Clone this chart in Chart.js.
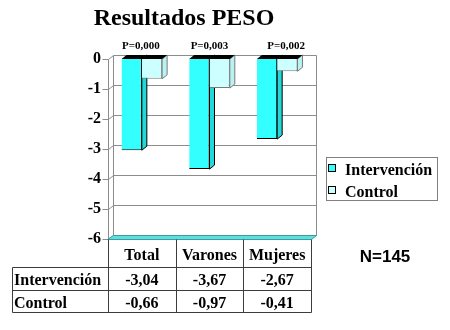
<!DOCTYPE html>
<html>
<head>
<meta charset="utf-8">
<script src="https://cdn.jsdelivr.net/npm/chart.js@4/dist/chart.umd.min.js"></script>
<style>
  html, body { margin: 0; padding: 0; background: #fff; }
  #c { display: block; }
</style>
</head>
<body>
<canvas id="c" width="450" height="330"></canvas>
<script>
// Weight change by group (kg)
const categories = ['Total', 'Varones', 'Mujeres'];
const seriesNames = ['Intervención', 'Control'];
const intervencion = [-3.04, -3.67, -2.67];
const control = [-0.66, -0.97, -0.41];
const pValues = ['P=0,000', 'P=0,003', 'P=0,002'];
const yTicks = [0, -1, -2, -3, -4, -5, -6];
const titleText = 'Resultados PESO';
const sampleText = 'N=145';

const COLORS = {
  interv: '#33ffff', intervSide: '#22d8d8', intervEdge: '#000000',
  ctrl: '#ccffff', ctrlSide: '#b9f2f2', ctrlEdge: '#7a7a7a',
  grid: '#8c8c8c', floor: '#5fdede', floorEdge: '#3a9e9e', table: '#3c3c3c'
};
const SERIF = '"Liberation Serif", "Times New Roman", serif';
const SANS = '"Liberation Sans", Arial, sans-serif';
const DX = 5, DY = 4;   // depth offset of the 3D walls and bar sides

const fmt = v => v.toFixed(2).replace('.', ',');

// Walls, gridlines, floor and the depth faces of the bars
const depthPlugin = {
  id: 'depth',
  beforeDatasetsDraw(chart) {
    const { ctx, chartArea: a, scales: { y } } = chart;
    ctx.save();
    ctx.lineWidth = 1;
    ctx.strokeStyle = COLORS.grid;
    const L = Math.round(a.left) + 0.5, R = Math.round(a.right) + 0.5;
    const T = Math.round(y.getPixelForValue(0)) + 0.5;
    const B = Math.round(y.getPixelForValue(-6)) + 0.5;
    yTicks.forEach(v => {
      const py = Math.round(y.getPixelForValue(v)) + 0.5;
      ctx.beginPath();
      ctx.moveTo(L - 6, py);
      ctx.lineTo(L, py);
      ctx.lineTo(L + DX, py - DY);
      ctx.lineTo(R + DX, py - DY);
      ctx.stroke();
    });
    ctx.beginPath();
    ctx.moveTo(L, T); ctx.lineTo(L, B);
    ctx.moveTo(L + DX, T - DY); ctx.lineTo(L + DX, B - DY);
    ctx.moveTo(R + DX, T - DY); ctx.lineTo(R + DX, B - DY);
    ctx.stroke();

    // floor slab
    ctx.beginPath();
    ctx.moveTo(L - 1, B); ctx.lineTo(R, B);
    ctx.lineTo(R + DX, B - DY); ctx.lineTo(L + DX, B - DY);
    ctx.closePath();
    ctx.fillStyle = COLORS.floor; ctx.fill();
    ctx.strokeStyle = COLORS.floorEdge; ctx.stroke();

    // side and top faces of the bars
    const faces = [
      { meta: chart.getDatasetMeta(0), side: COLORS.intervSide, edge: COLORS.intervEdge },
      { meta: chart.getDatasetMeta(1), side: COLORS.ctrlSide, edge: COLORS.ctrlEdge }
    ];
    faces.forEach(f => {
      f.meta.data.forEach(bar => {
        const x2 = bar.x + bar.width / 2;
        const top = bar.base, bot = bar.y;
        ctx.beginPath();
        ctx.moveTo(x2, top);
        ctx.lineTo(x2 + DX, top - DY);
        ctx.lineTo(x2 + DX, bot - DY);
        ctx.lineTo(x2, bot);
        ctx.closePath();
        ctx.fillStyle = f.side; ctx.fill();
        ctx.strokeStyle = f.edge; ctx.stroke();
      });
    });
    faces.forEach(f => {
      f.meta.data.forEach(bar => {
        const x1 = bar.x - bar.width / 2, x2 = bar.x + bar.width / 2;
        const top = bar.base;
        ctx.beginPath();
        ctx.moveTo(x1, top);
        ctx.lineTo(x2, top);
        ctx.lineTo(x2 + DX, top - DY);
        ctx.lineTo(x1 + DX, top - DY);
        ctx.closePath();
        ctx.fillStyle = '#000'; ctx.fill();
      });
    });
    ctx.restore();
  },
  afterDraw(chart) {
    const { ctx, chartArea: a, scales: { x } } = chart;
    ctx.save();
    ctx.fillStyle = '#000';
    ctx.textBaseline = 'alphabetic';

    // title
    ctx.textAlign = 'center';
    ctx.font = 'bold 24px ' + SERIF;
    ctx.fillText(titleText, 184, 25);

    // significance labels above each group
    const pShift = [-1, 0, 9];
    ctx.font = 'bold 11px ' + SERIF;
    pValues.forEach((p, i) => ctx.fillText(p, x.getPixelForValue(i) + pShift[i], 49));

    // data table
    const cw = (a.right - a.left) / categories.length;
    const top = Math.round(a.bottom) + 0.5;
    const rows = [267.5, 290.5, 312.5];
    ctx.strokeStyle = COLORS.table;
    ctx.lineWidth = 1;
    ctx.beginPath();
    rows.forEach(ry => { ctx.moveTo(12.5, ry); ctx.lineTo(Math.round(a.right) + 0.5, ry); });
    ctx.moveTo(12.5, rows[0]); ctx.lineTo(12.5, rows[2]);
    for (let k = 0; k <= categories.length; k++) {
      const cx = Math.round(a.left + k * cw) + 0.5;
      ctx.moveTo(cx, top); ctx.lineTo(cx, rows[2]);
    }
    ctx.stroke();

    ctx.font = 'bold 16px ' + SERIF;
    ctx.textAlign = 'center';
    categories.forEach((c, i) => {
      const cx = x.getPixelForValue(i);
      ctx.fillText(c, cx, 260);
      ctx.fillText(fmt(intervencion[i]), cx, 285);
      ctx.fillText(fmt(control[i]), cx, 308);
    });
    ctx.textAlign = 'left';
    ctx.fillText(seriesNames[0], 14, 285);
    ctx.fillText(seriesNames[1], 14, 308);

    // legend
    ctx.strokeStyle = '#808080';
    ctx.strokeRect(326.5, 157.5, 111, 43);
    const swatches = [COLORS.interv, COLORS.ctrl];
    const ys = [175, 197];
    seriesNames.forEach((n, i) => {
      ctx.fillStyle = swatches[i];
      ctx.fillRect(328.5, ys[i] - 10.5, 7, 7);
      ctx.strokeStyle = '#000';
      ctx.strokeRect(328.5, ys[i] - 10.5, 7, 7);
      ctx.fillStyle = '#000';
      ctx.font = 'bold 16px ' + SERIF;
      ctx.fillText(n, 345, ys[i]);
    });

    // sample size
    ctx.textAlign = 'center';
    ctx.font = 'bold 17px ' + SANS;
    ctx.fillText(sampleText, 385, 262);
    ctx.restore();
  }
};

new Chart(document.getElementById('c'), {
  type: 'bar',
  data: {
    labels: categories,
    datasets: [
      {
        label: seriesNames[0], data: intervencion,
        backgroundColor: COLORS.interv, borderColor: COLORS.intervEdge,
        borderWidth: { top: 0, right: 1, bottom: 1, left: 0 }, borderSkipped: false,
        categoryPercentage: 0.6, barPercentage: 1.0
      },
      {
        label: seriesNames[1], data: control,
        backgroundColor: COLORS.ctrl, borderColor: COLORS.ctrlEdge,
        borderWidth: { top: 0, right: 1, bottom: 1, left: 0 }, borderSkipped: false,
        categoryPercentage: 0.6, barPercentage: 1.0
      }
    ]
  },
  options: {
    responsive: false,
    animation: false,
    devicePixelRatio: 1,
    layout: { padding: { top: 59, right: 139, bottom: 91, left: 0 } },
    plugins: { legend: { display: false }, tooltip: { enabled: false }, title: { display: false } },
    scales: {
      x: { display: false, offset: true },
      y: {
        min: -6, max: 0,
        afterFit(s) { s.width = 108; },
        grid: { display: false, drawTicks: false },
        border: { display: false },
        ticks: {
          stepSize: 1, padding: 7, color: '#000',
          font: { family: SERIF, weight: 'bold', size: 16 }
        }
      }
    }
  },
  plugins: [depthPlugin]
});
</script>
</body>
</html>
